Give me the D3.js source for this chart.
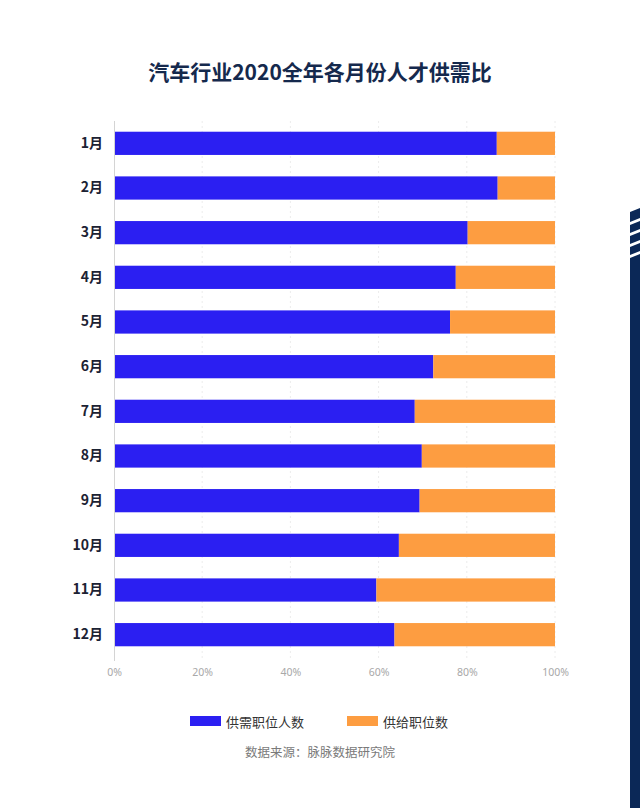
<!DOCTYPE html>
<html>
<head>
<meta charset="utf-8">
<script src="https://cdn.jsdelivr.net/npm/d3@7"></script>
<style>
  html, body { margin: 0; padding: 0; background: #fff; }
  svg { display: block; font-family: "Noto Sans CJK SC", "Noto Sans", sans-serif; }
</style>
</head>
<body>
<svg id="chart" width="640" height="808"></svg>
<script>
const months = ["1月","2月","3月","4月","5月","6月","7月","8月","9月","10月","11月","12月"];
const demand = [86.8, 87.0, 80.2, 77.5, 76.2, 72.4, 68.2, 69.8, 69.3, 64.6, 59.5, 63.6];
const supply = demand.map(d => 100 - d);
const seriesNames = ["供需职位人数", "供给职位数"];
const colors = ["#2b1ff2", "#fd9d41"];
const tickValues = [0, 20, 40, 60, 80, 100];
const title = "汽车行业2020全年各月份人才供需比";
const source = "数据来源：脉脉数据研究院";

const svg = d3.select("#chart");

const x = d3.scaleLinear().domain([0, 100]).range([114, 555]);
const y = d3.scaleBand().domain(months).range([121, 657]).paddingInner(0.48).paddingOuter(0.24);

// decoration on right edge
const deco = svg.append("g");
deco.append("path").attr("d", "M630,212 L640,208 L640,808 L630,808 Z").attr("fill", "#0b2857");
for (let i = 0; i < 4; i++) {
  const yy = 218 + i * 11;
  deco.append("path")
    .attr("d", `M630,${yy + 4} L640,${yy} L640,${yy + 3} L630,${yy + 7} Z`)
    .attr("fill", "#fff");
}

// title
svg.append("text")
  .attr("x", 320).attr("y", 80)
  .attr("text-anchor", "middle")
  .attr("font-size", 21).attr("font-weight", 700)
  .attr("fill", "#15294d")
  .text(title);

// gridlines
svg.append("g").selectAll("line")
  .data(tickValues.slice(1))
  .join("line")
  .attr("x1", d => x(d)).attr("x2", d => x(d))
  .attr("y1", 121).attr("y2", 660)
  .attr("stroke", "#ececec").attr("stroke-width", 1)
  .attr("stroke-dasharray", "2,3");

// bars
const stack = months.map((m, i) => ({ m, a: demand[i], b: supply[i] }));
const g = svg.append("g");
g.selectAll("rect.demand").data(stack).join("rect")
  .attr("class", "demand")
  .attr("x", x(0)).attr("y", d => y(d.m))
  .attr("width", d => x(d.a) - x(0)).attr("height", y.bandwidth())
  .attr("fill", colors[0]);
g.selectAll("rect.supply").data(stack).join("rect")
  .attr("class", "supply")
  .attr("x", d => x(d.a)).attr("y", d => y(d.m))
  .attr("width", d => x(d.a + d.b) - x(d.a)).attr("height", y.bandwidth())
  .attr("fill", colors[1]);

// left axis line
svg.append("line").attr("x1", 114.5).attr("x2", 114.5).attr("y1", 121).attr("y2", 661)
  .attr("stroke", "#d4d4d4").attr("stroke-width", 1);

// y axis labels
const yAxis = d3.axisLeft(y).tickSize(0).tickPadding(0);
const yg = svg.append("g").attr("transform", "translate(103,0)").call(yAxis);
yg.select(".domain").remove();
yg.selectAll("text")
  .attr("font-size", 14).attr("font-weight", 700).attr("fill", "#1c2233")
  .attr("font-family", "'Noto Sans CJK SC', sans-serif");

// x axis labels
const xAxis = d3.axisBottom(x).tickValues(tickValues).tickFormat(d => d + "%").tickSize(0).tickPadding(0);
const xg = svg.append("g").attr("transform", "translate(0,669)").call(xAxis);
xg.select(".domain").remove();
xg.selectAll("text")
  .attr("font-size", 10.5).attr("fill", "#a8a8a8")
  .attr("font-family", "'Noto Sans', sans-serif");

// legend
const legend = svg.append("g");
const legendItems = [{ x: 190, tx: 226 }, { x: 347, tx: 383 }];
seriesNames.forEach((n, i) => {
  legend.append("rect").attr("x", legendItems[i].x).attr("y", 716).attr("width", 31).attr("height", 10).attr("fill", colors[i]);
  legend.append("text").attr("x", legendItems[i].tx).attr("y", 726.5)
    .attr("font-size", 13).attr("fill", "#333").text(n);
});

// source
svg.append("text")
  .attr("x", 320).attr("y", 757)
  .attr("text-anchor", "middle")
  .attr("font-size", 12.5).attr("fill", "#7a7a7a")
  .text(source);
</script>
</body>
</html>
